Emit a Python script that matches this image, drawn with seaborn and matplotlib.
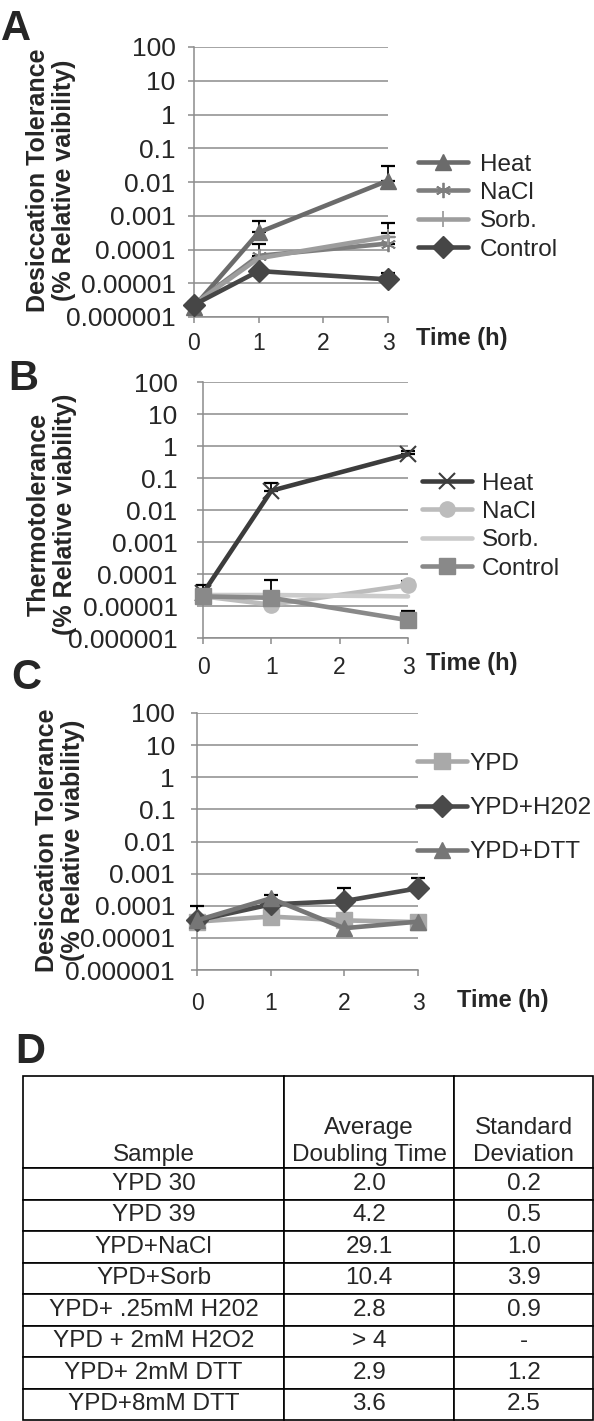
"""
Figura em 4 painéis: tolerância à dessecação / termotolerância (A-C)
e tabela de tempos de duplicação (D).
"""

import numpy as np
import pandas as pd
import matplotlib
matplotlib.use("Agg")
import matplotlib.pyplot as plt
import seaborn as sns

# ── Dados ────────────────────────────────────────────────────────────────────

TIME_AB = [0, 1, 3]
TIME_C = [0, 1, 2, 3]
X_TICKS = [0, 1, 2, 3]

Y_TICKS = [1e2, 1e1, 1e0, 1e-1, 1e-2, 1e-3, 1e-4, 1e-5, 1e-6]
Y_TICK_LABELS = ["100", "10", "1", "0.1", "0.01", "0.001", "0.0001",
                 "0.00001", "0.000001"]

# painel A — dessecação após pré-tratamento
A_NAMES = ["Heat", "NaCl", "Sorb.", "Control"]
A_HEAT = [2.0e-6, 3.2e-4, 1.1e-2]
A_NACL = [2.4e-6, 6.5e-5, 1.5e-4]
A_SORB = [2.4e-6, 5.5e-5, 2.4e-4]
A_CONTROL = [2.3e-6, 2.3e-5, 1.3e-5]
A_HEAT_TOP = [np.nan, 6.8e-4, 3.0e-2]
A_NACL_TOP = [np.nan, 1.5e-4, 3.0e-4]
A_SORB_TOP = [np.nan, np.nan, 6.0e-4]
A_CONTROL_TOP = [np.nan, np.nan, 2.0e-5]

# painel B — termotolerância
B_NAMES = ["Heat", "NaCl", "Sorb.", "Control"]
B_HEAT = [2.5e-5, 4.0e-2, 5.5e-1]
B_NACL = [2.0e-5, 1.1e-5, 4.5e-5]
B_SORB = [2.2e-5, 2.2e-5, 2.0e-5]
B_CONTROL = [2.0e-5, 1.8e-5, 3.6e-6]
B_HEAT_TOP = [4.5e-5, 7.0e-2, 7.0e-1]
B_NACL_TOP = [np.nan, np.nan, 6.0e-5]
B_SORB_TOP = [np.nan, np.nan, np.nan]
B_CONTROL_TOP = [np.nan, 6.5e-5, 6.8e-6]

# painel C — dessecação após estresse oxidativo / redutor
C_NAMES = ["YPD", "YPD+H202", "YPD+DTT"]
C_YPD = [3.2e-5, 4.6e-5, 3.5e-5, 3.1e-5]
C_H2O2 = [3.5e-5, 1.1e-4, 1.4e-4, 3.5e-4]
C_DTT = [3.5e-5, 1.7e-4, 2.0e-5, 3.2e-5]
C_YPD_TOP = [np.nan, np.nan, np.nan, np.nan]
C_H2O2_TOP = [9.5e-5, 2.2e-4, 3.6e-4, 7.5e-4]
C_DTT_TOP = [np.nan, np.nan, np.nan, np.nan]

# painel D — tabela
D_HEADER = ["Sample", "Average\nDoubling Time", "Standard\nDeviation"]
D_SAMPLES = ["YPD 30", "YPD 39", "YPD+NaCl", "YPD+Sorb", "YPD+ .25mM H202",
             "YPD + 2mM H2O2", "YPD+ 2mM DTT", "YPD+8mM DTT"]
D_AVG = ["2.0", "4.2", "29.1", "10.4", "2.8", "> 4", "2.9", "3.6"]
D_STD = ["0.2", "0.5", "1.0", "3.9", "0.9", "-", "1.2", "2.5"]

# ── Estilo ───────────────────────────────────────────────────────────────────

W, H = 594, 1421
GRID = "#8c8c8c"
LW = 3.3
MS = 11

sns.set_style("white")
plt.rcParams["font.family"] = ["Liberation Sans", "DejaVu Sans"]


def fx(px):
    return px / W


def fy(px):
    return 1 - px / H


def long_df(names, times, series, tops):
    rows = []
    for name, vals, top in zip(names, series, tops):
        for t, v, e in zip(times, vals, top):
            rows.append({"series": name, "time": t, "value": v, "top": e})
    return pd.DataFrame(rows)


def draw_panel(ax, df, colors, markers, medges, legend_xy, labelspacing,
               textpad, ypad, xpad):
    for name in df["series"].unique():
        d = df[df["series"] == name]
        c = colors[name]
        sns.lineplot(data=d, x="time", y="value", ax=ax, color=c,
                     marker=markers[name], markersize=MS, linewidth=LW,
                     markeredgecolor=c, markeredgewidth=medges[name],
                     label=name, errorbar=None, clip_on=False, zorder=4)
        ok = d["top"].notna()
        if ok.any():
            dd = d[ok]
            up = dd["top"].values - dd["value"].values
            ax.errorbar(dd["time"], dd["value"],
                        yerr=[np.zeros_like(up), up], fmt="none",
                        ecolor="black", elinewidth=1.3, capsize=4.8,
                        capthick=1.6, clip_on=False, zorder=3)

    ax.set_yscale("log")
    ax.set_ylim(1e-6, 1e2)
    ax.set_xlim(0, 3)
    ax.set_yticks(Y_TICKS)
    ax.set_yticklabels(Y_TICK_LABELS)
    ax.minorticks_off()
    ax.set_xticks(X_TICKS)
    ax.set_xticklabels([str(t) for t in X_TICKS])
    ax.set_xlabel("")
    ax.set_ylabel("")
    ax.yaxis.grid(True, color=GRID, linewidth=1.1)
    ax.xaxis.grid(False)
    for s in ["top", "right"]:
        ax.spines[s].set_visible(False)
    for s in ["left", "bottom"]:
        ax.spines[s].set_color(GRID)
        ax.spines[s].set_linewidth(1.1)
    ax.tick_params(axis="y", length=4.3, width=1.1, color=GRID, pad=ypad,
                   labelsize=19, left=True)
    ax.tick_params(axis="x", length=4.3, width=1.1, color=GRID, pad=xpad,
                   labelsize=16.5, bottom=True)

    handles, labels = ax.get_legend_handles_labels()
    ax.legend(handles, labels, loc="center left",
              bbox_to_anchor=(fx(legend_xy[0]), fy(legend_xy[1])),
              bbox_transform=ax.figure.transFigure, frameon=False,
              fontsize=17.5, handlelength=2.05, handletextpad=textpad,
              labelspacing=labelspacing, borderpad=0, borderaxespad=0)


fig = plt.figure(figsize=(W / 100, H / 100), dpi=100)

# ── Painel A ─────────────────────────────────────────────────────────────────
axA = fig.add_axes([fx(194), fy(317), fx(388 - 194), (317 - 47) / H])
dfA = long_df(A_NAMES, TIME_AB, [A_HEAT, A_NACL, A_SORB, A_CONTROL],
              [A_HEAT_TOP, A_NACL_TOP, A_SORB_TOP, A_CONTROL_TOP])
draw_panel(axA, dfA,
           colors={"Heat": "#6b6b6b", "NaCl": "#7e7e7e",
                   "Sorb.": "#9d9d9d", "Control": "#464646"},
           markers={"Heat": "^", "NaCl": (6, 2, 0), "Sorb.": "+",
                    "Control": "D"},
           medges={"Heat": 1, "NaCl": 1.3, "Sorb.": 1.3, "Control": 1},
           legend_xy=(418, 207), labelspacing=0.26, textpad=0.5,
           ypad=9, xpad=6.5)

# ── Painel B ─────────────────────────────────────────────────────────────────
axB = fig.add_axes([fx(203), fy(638), fx(408 - 203), (638 - 382) / H])
dfB = long_df(B_NAMES, TIME_AB, [B_HEAT, B_NACL, B_SORB, B_CONTROL],
              [B_HEAT_TOP, B_NACL_TOP, B_SORB_TOP, B_CONTROL_TOP])
draw_panel(axB, dfB,
           colors={"Heat": "#3c3c3c", "NaCl": "#bcbcbc",
                   "Sorb.": "#cbcbcb", "Control": "#898989"},
           markers={"Heat": "x", "NaCl": "o", "Sorb.": "", "Control": "s"},
           medges={"Heat": 1.5, "NaCl": 1, "Sorb.": 1, "Control": 1},
           legend_xy=(422, 526), labelspacing=0.26, textpad=0.4,
           ypad=14, xpad=9)

# ── Painel C ─────────────────────────────────────────────────────────────────
axC = fig.add_axes([fx(197), fy(970), fx(418 - 197), (970 - 713) / H])
dfC = long_df(C_NAMES, TIME_C, [C_YPD, C_H2O2, C_DTT],
              [C_YPD_TOP, C_H2O2_TOP, C_DTT_TOP])
draw_panel(axC, dfC,
           colors={"YPD": "#a9a9a9", "YPD+H202": "#4a4a4a",
                   "YPD+DTT": "#767676"},
           markers={"YPD": "s", "YPD+H202": "D", "YPD+DTT": "^"},
           medges={"YPD": 1, "YPD+H202": 1, "YPD+DTT": 1},
           legend_xy=(417, 808), labelspacing=0.92, textpad=0.1,
           ypad=11.5, xpad=11.5)

# rótulos dos eixos
label_kw = dict(rotation=90, ha="center", va="center", fontsize=18,
                fontweight="bold", multialignment="center", linespacing=1.15)
fig.text(fx(51), fy(180), "Desiccation Tolerance\n(% Relative vaibility)",
         **label_kw)
fig.text(fx(52), fy(514), "Thermotolerance\n(% Relative viability)",
         **label_kw)
fig.text(fx(60), fy(840), "Desiccation Tolerance\n(% Relative viability)",
         **label_kw)

time_kw = dict(ha="left", va="center", fontsize=17, fontweight="bold")
fig.text(fx(416), fy(338), "Time (h)", **time_kw)
fig.text(fx(426), fy(664), "Time (h)", **time_kw)
fig.text(fx(457), fy(1000), "Time (h)", **time_kw)

# letras dos painéis
panel_kw = dict(ha="left", va="baseline", fontsize=30, fontweight="bold")
fig.text(fx(1), fy(40), "A", **panel_kw)
fig.text(fx(8), fy(390), "B", **panel_kw)
fig.text(fx(11), fy(689), "C", **panel_kw)
fig.text(fx(15), fy(1063), "D", **panel_kw)

# ── Painel D (tabela) ────────────────────────────────────────────────────────
TAB_TOP, TAB_BOTTOM, HEAD_BOTTOM = 1076, 1420, 1168
axD = fig.add_axes([fx(23), fy(TAB_BOTTOM), fx(593 - 23),
                    (TAB_BOTTOM - TAB_TOP) / H])
axD.axis("off")
cell_text = [[s, a, d] for s, a, d in zip(D_SAMPLES, D_AVG, D_STD)]
col_w = np.array([261, 170.5, 138.5])
col_frac = col_w / col_w.sum()
table = axD.table(cellText=cell_text, colLabels=[""] * len(D_HEADER),
                  colWidths=list(col_frac), cellLoc="center",
                  bbox=[0, 0, 1, 1])
table.auto_set_font_size(False)
table.set_fontsize(17.5)
n_rows = len(D_SAMPLES)
row_h = (TAB_BOTTOM - HEAD_BOTTOM) / n_rows
for (r, c), cell in table.get_celld().items():
    cell.set_edgecolor("black")
    cell.set_linewidth(1.2)
    cell.set_height((HEAD_BOTTOM - TAB_TOP) / row_h if r == 0 else 1.0)

# cabeçalho alinhado na base da célula
head_y = (TAB_BOTTOM - HEAD_BOTTOM + 2) / (TAB_BOTTOM - TAB_TOP)
centers = np.cumsum(col_frac) - col_frac / 2
for xc, txt in zip(centers, D_HEADER):
    axD.text(xc, head_y, txt, ha="center", va="bottom", fontsize=17.5,
             linespacing=1.28, transform=axD.transAxes)

fig.savefig("out.png", dpi=100, facecolor="white")
